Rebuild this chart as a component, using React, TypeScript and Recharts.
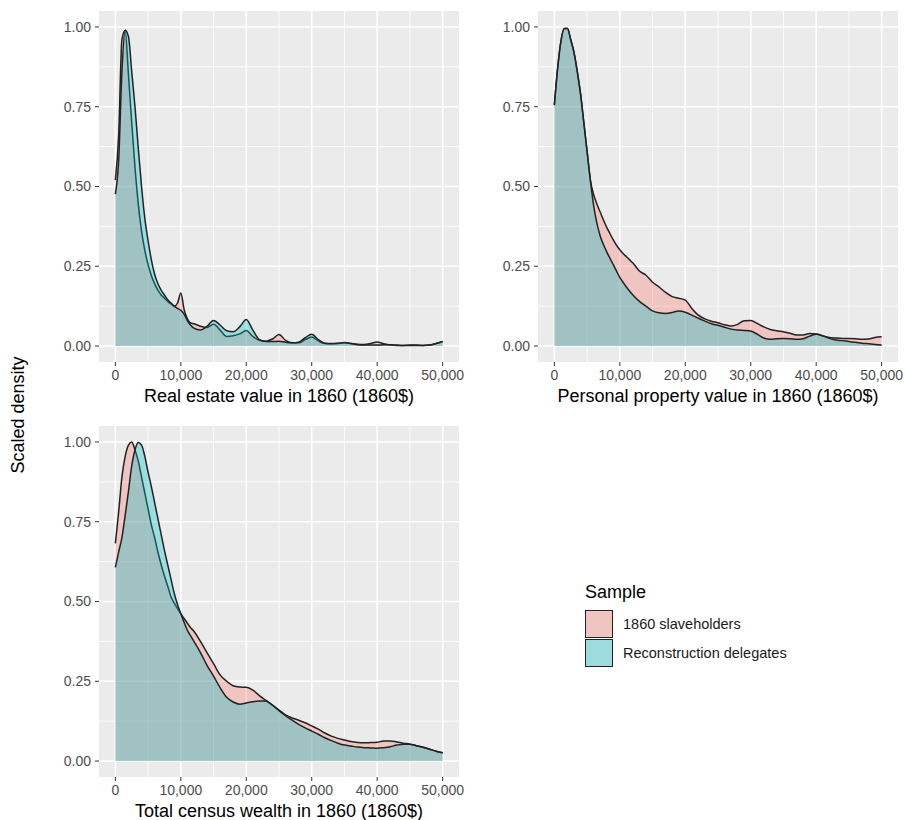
import React from 'react';
import { AreaChart, Area, XAxis, YAxis, CartesianGrid } from 'recharts';

const wealthGrid = [
  0, 500, 1000, 1500, 2000, 2500, 3000, 3500, 4000, 4500, 5000, 5500, 6000,
  6500, 7000, 7500, 8000, 8500, 9000, 9500, 10000, 10500, 11000, 11500, 12000,
  13000, 14000, 15000, 16000, 17000, 18000, 19000, 20000, 21000, 22000, 23000,
  24000, 25000, 26000, 27000, 28000, 29000, 30000, 31000, 32000, 33000, 34000,
  35000, 36000, 37000, 38000, 39000, 40000, 41000, 42000, 43000, 44000, 45000,
  46000, 47000, 48000, 49000, 50000,
];

const realEstateSlave = [
  0.52, 0.66, 0.96, 0.99, 0.85, 0.7, 0.56, 0.445, 0.36, 0.3, 0.255, 0.22, 0.195,
  0.175, 0.16, 0.15, 0.14, 0.132, 0.125, 0.135, 0.166, 0.115, 0.085, 0.072, 0.07,
  0.062, 0.058, 0.068, 0.05, 0.03, 0.032, 0.038, 0.049, 0.03, 0.018, 0.015,
  0.022, 0.036, 0.018, 0.01, 0.01, 0.02, 0.028, 0.016, 0.008, 0.007, 0.008,
  0.01, 0.008, 0.006, 0.005, 0.008, 0.013, 0.007, 0.003, 0.002, 0.002, 0.003,
  0.003, 0.002, 0.003, 0.008, 0.014,
];
const realEstateDelegates = [
  0.476, 0.58, 0.86, 0.99, 0.97, 0.86, 0.75, 0.62, 0.5, 0.4, 0.33, 0.27, 0.225,
  0.195, 0.175, 0.16, 0.145, 0.135, 0.125, 0.118, 0.112, 0.1, 0.08, 0.065, 0.056,
  0.05, 0.062, 0.08, 0.066, 0.048, 0.045, 0.06, 0.083, 0.05, 0.02, 0.014,
  0.014, 0.015, 0.012, 0.01, 0.012, 0.026, 0.037, 0.02, 0.009, 0.008, 0.009,
  0.011, 0.008, 0.004, 0.003, 0.003, 0.003, 0.004, 0.004, 0.003, 0.002, 0.002,
  0.002, 0.002, 0.003, 0.008, 0.014,
];

const propertySlave = [
  0.755, 0.87, 0.955, 0.995, 0.995, 0.96, 0.92, 0.86, 0.79, 0.7, 0.61, 0.52, 0.475,
  0.445, 0.42, 0.395, 0.372, 0.352, 0.333, 0.316, 0.302, 0.29, 0.28, 0.27, 0.26,
  0.235, 0.222, 0.2, 0.185, 0.168, 0.155, 0.15, 0.144, 0.118, 0.097, 0.085,
  0.078, 0.073, 0.067, 0.063, 0.068, 0.079, 0.08, 0.071, 0.06, 0.052, 0.048,
  0.045, 0.04, 0.035, 0.035, 0.039, 0.038, 0.032, 0.027, 0.025, 0.024, 0.024,
  0.023, 0.021, 0.022, 0.027, 0.029,
];
const propertyDelegates = [
  0.755, 0.87, 0.955, 0.995, 0.995, 0.96, 0.92, 0.86, 0.79, 0.7, 0.61, 0.52, 0.44,
  0.385, 0.345, 0.318, 0.295, 0.275, 0.255, 0.235, 0.215, 0.2, 0.185, 0.172, 0.16,
  0.14, 0.125, 0.11, 0.104, 0.102, 0.105, 0.11, 0.106, 0.097, 0.087, 0.078,
  0.07, 0.065, 0.059, 0.053, 0.05, 0.049, 0.047, 0.037, 0.025, 0.021, 0.023,
  0.024, 0.023, 0.021, 0.023, 0.031, 0.037, 0.032, 0.024, 0.019, 0.017, 0.014,
  0.012, 0.009, 0.007, 0.005, 0.003,
];

const totalSlave = [
  0.682, 0.78, 0.89, 0.955, 0.99, 1.0, 0.975, 0.94, 0.89, 0.84, 0.79, 0.74, 0.7,
  0.655, 0.615, 0.58, 0.548, 0.515, 0.495, 0.478, 0.462, 0.447, 0.432, 0.418, 0.407,
  0.375, 0.34, 0.305, 0.27, 0.25, 0.236, 0.232, 0.231, 0.222, 0.205, 0.19,
  0.175, 0.16, 0.145, 0.135, 0.128, 0.12, 0.11, 0.1, 0.088, 0.078, 0.071,
  0.066, 0.061, 0.058, 0.057, 0.058, 0.059, 0.063, 0.063, 0.06, 0.056, 0.053,
  0.048, 0.043, 0.037, 0.031, 0.026,
];
const totalDelegates = [
  0.607, 0.655, 0.7, 0.77, 0.845, 0.925, 0.975, 0.998, 0.99, 0.955, 0.905, 0.86, 0.81,
  0.76, 0.71, 0.66, 0.615, 0.57, 0.525, 0.49, 0.462, 0.435, 0.41, 0.392, 0.375,
  0.34, 0.3, 0.266, 0.23, 0.2, 0.185, 0.178, 0.182, 0.186, 0.188, 0.188,
  0.175, 0.158, 0.142, 0.128, 0.115, 0.104, 0.094, 0.084, 0.073, 0.064, 0.056,
  0.05, 0.047, 0.044, 0.042, 0.041, 0.04, 0.042, 0.045, 0.05, 0.053, 0.053,
  0.048, 0.043, 0.037, 0.031, 0.026,
];

const xTicks = [0, 10000, 20000, 30000, 40000, 50000];
const xMinor = [5000, 15000, 25000, 35000, 45000];
const yTicks = [0, 0.25, 0.5, 0.75, 1];
const yMinor = [0.125, 0.375, 0.625, 0.875];

const seriesNames = ['1860 slaveholders', 'Reconstruction delegates'];
const seriesColors = ['#F8766D', '#00BFC4'];

const FONT = '"Liberation Sans", Arial, Helvetica, sans-serif';
const PLOT_W = 360;
const PLOT_H = 351;
const AXIS_H = 48;
const ALPHA = 0.33;

const build = (slave: number[], delegates: number[]) =>
  wealthGrid.map((x, i) => ({ x, slave: slave[i], delegates: delegates[i] }));

const fmtX = (v: number) => v.toLocaleString('en-US');

interface PanelProps {
  data: { x: number; slave: number; delegates: number }[];
  title: string;
  left: number;
  top: number;
  axisW: number;
  rightPad: number;
}

const Panel: React.FC<PanelProps> = ({ data, title, left, top, axisW, rightPad }) => (
  <div style={{ position: 'absolute', left, top }}>
    <AreaChart
      width={axisW + PLOT_W + rightPad}
      height={11 + PLOT_H + AXIS_H}
      data={data}
      margin={{ top: 11, right: rightPad, bottom: 0, left: 0 }}
    >
      <CartesianGrid
        fill="#EBEBEB"
        stroke="#FFFFFF"
        strokeWidth={0.8}
        horizontalValues={yMinor}
        verticalValues={xMinor}
      />
      <CartesianGrid
        stroke="#FFFFFF"
        strokeWidth={1.6}
        horizontalValues={yTicks}
        verticalValues={xTicks}
      />
      <XAxis
        dataKey="x"
        type="number"
        domain={[-2500, 52500]}
        ticks={xTicks}
        interval={0}
        tickFormatter={fmtX}
        axisLine={false}
        tickSize={4}
        tickMargin={4}
        tickLine={{ stroke: '#333333' }}
        tick={{ fill: '#4D4D4D', fontSize: 14 }}
        height={AXIS_H}
        label={{ value: title, position: 'insideBottom', offset: 8, fill: '#000000', fontSize: 18 }}
      />
      <YAxis
        type="number"
        domain={[-0.05, 1.05]}
        ticks={yTicks}
        interval={0}
        tickFormatter={(v: number) => v.toFixed(2)}
        axisLine={false}
        tickSize={4}
        tickMargin={4}
        tickLine={{ stroke: '#333333' }}
        tick={{ fill: '#4D4D4D', fontSize: 14 }}
        width={axisW}
      />
      <Area
        type="monotone"
        dataKey="slave"
        name={seriesNames[0]}
        baseValue={0}
        fill={seriesColors[0]}
        fillOpacity={ALPHA}
        stroke="#222222"
        strokeWidth={1.5}
        isAnimationActive={false}
      />
      <Area
        type="monotone"
        dataKey="delegates"
        name={seriesNames[1]}
        baseValue={0}
        fill={seriesColors[1]}
        fillOpacity={ALPHA}
        stroke="#222222"
        strokeWidth={1.5}
        isAnimationActive={false}
      />
    </AreaChart>
  </div>
);

export default function App() {
  return (
    <div
      style={{
        position: 'absolute',
        left: 0,
        top: 0,
        width: 905,
        height: 820,
        overflow: 'hidden',
        background: '#FFFFFF',
        fontFamily: FONT,
      }}
    >
      <Panel
        data={build(realEstateSlave, realEstateDelegates)}
        title="Real estate value in 1860 (1860$)"
        left={0}
        top={0}
        axisW={99}
        rightPad={10}
      />
      <Panel
        data={build(propertySlave, propertyDelegates)}
        title="Personal property value in 1860 (1860$)"
        left={498}
        top={0}
        axisW={40}
        rightPad={6}
      />
      <Panel
        data={build(totalSlave, totalDelegates)}
        title="Total census wealth in 1860 (1860$)"
        left={0}
        top={415}
        axisW={99}
        rightPad={10}
      />

      <div
        style={{
          position: 'absolute',
          left: 18 - 100,
          top: 415 - 11,
          width: 200,
          lineHeight: '22px',
          textAlign: 'center',
          fontSize: 18,
          color: '#000',
          transform: 'rotate(-90deg)',
        }}
      >
        Scaled density
      </div>

      <div style={{ position: 'absolute', left: 585, top: 581, lineHeight: '22px', fontSize: 18, color: '#000' }}>
        Sample
      </div>
      {seriesNames.map((name, i) => (
        <div key={name}>
          <div
            style={{
              position: 'absolute',
              left: 585,
              top: 610 + i * 29,
              width: 28,
              height: 28,
              boxSizing: 'border-box',
              border: '1.5px solid #222222',
              background: '#EBEBEB',
            }}
          >
            <div style={{ width: '100%', height: '100%', background: seriesColors[i], opacity: ALPHA }} />
          </div>
          <div
            style={{
              position: 'absolute',
              left: 623,
              top: 614 + i * 29,
              lineHeight: '20px',
              fontSize: 14.5,
              color: '#1A1A1A',
            }}
          >
            {name}
          </div>
        </div>
      ))}
    </div>
  );
}
